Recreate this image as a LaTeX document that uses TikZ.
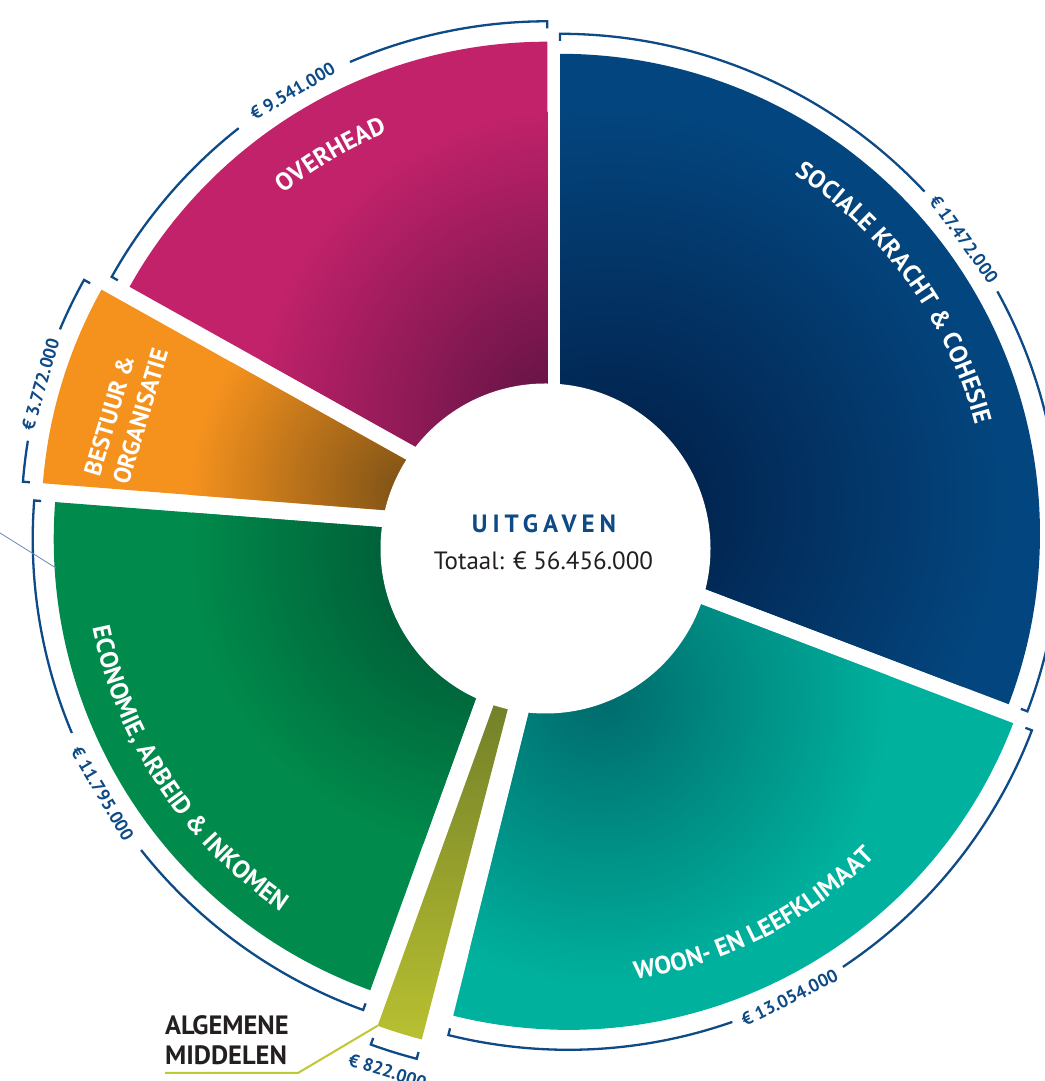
\documentclass[tikz,border=0pt]{standalone}
\usepackage{fontspec}
\setmainfont{PT Sans}
\newfontfamily\widefont[LetterSpace=20]{PT Sans}
\usepackage{xcolor}
\usepackage{tikz}
\usetikzlibrary{calc,decorations.text}

\definecolor{ohlight}{HTML}{C1226A}
\definecolor{ohdark}{HTML}{5B1242}
\definecolor{sklight}{HTML}{03467F}
\definecolor{skdark}{HTML}{021C44}
\definecolor{wllight}{HTML}{00B19D}
\definecolor{wldark}{HTML}{006A6C}
\definecolor{amlight}{HTML}{BFC731}
\definecolor{amdark}{HTML}{5A6926}
\definecolor{eailight}{HTML}{008A4B}
\definecolor{eaidark}{HTML}{004A2F}
\definecolor{bolight}{HTML}{F5921E}
\definecolor{bodark}{HTML}{7A5016}
\definecolor{valueblue}{HTML}{0D4A86}
\definecolor{textgrey}{HTML}{231F20}
\definecolor{thinblue}{HTML}{7185BA}

\newcommand{\segfont}{\fontsize{25}{29}\selectfont\bfseries}

\tikzset{
  bracket/.style={draw=valueblue, line width=2.3pt},
  valuelabel/.style={text=valueblue, font=\fontsize{18}{18}\selectfont\bfseries, inner sep=0pt},
  seglabel/.style={text=white, font=\fontsize{24}{30}\selectfont\bfseries, inner sep=0pt},
  segtext/.style={decorate, decoration={text along path, text color=white, text align=center, text={|\segfont|#1}}},
  leader/.style={draw=amlight, line width=2pt},
}

\begin{document}
\begin{tikzpicture}[x=1pt,y=1pt]
    \useasboundingbox (0,0) rectangle (1044,1081);

    \coordinate (oh) at (547.3,560.7);
    \coordinate (sk) at (560,547.2);
    \coordinate (wl) at (568.4,527.2);
    \coordinate (am) at (547.8,525.4);
    \coordinate (eai) at (533.7,542.1);
    \coordinate (bo) at (514.4,560.6);
    \coordinate (mid) at (545.5,532.5);

    % segments
    \begin{scope}
        \clip (oh) -- ++(90:478.6) arc[start angle=90, end angle=150.8, radius=478.6] -- cycle;
        \fill[ohlight] (oh) circle (600);
        \shade[inner color=ohdark, outer color=ohlight] (565,660) circle (310);
    \end{scope}
    \begin{scope}
        \clip (sk) -- ++(90:480) arc[start angle=90, end angle=-20.8, radius=480] -- cycle;
        \fill[sklight] (sk) circle (600);
        \shade[inner color=skdark, outer color=sklight] (610,580) circle (400);
    \end{scope}
    \begin{scope}
        \clip (wl) -- ++(-20.85:476) arc[start angle=-20.85, end angle=-104, radius=476] -- cycle;
        \fill[wllight] (wl) circle (600);
        \shade[inner color=wldark, outer color=wllight] (600,385) circle (290);
    \end{scope}
    \begin{scope}
        \clip (am) -- ++(-104.6:500) arc[start angle=-104.6, end angle=-109.9, radius=500] -- cycle;
        \shade[top color=amdark, bottom color=amlight] (340,9) rectangle (560,498);
    \end{scope}
    \begin{scope}
        \clip (eai) -- ++(-109.9:480) arc[start angle=-109.9, end angle=-184.4, radius=480] -- cycle;
        \fill[eailight] (eai) circle (600);
        \shade[inner color=eaidark, outer color=eailight] (490,530) circle (300);
    \end{scope}
    \begin{scope}
        \clip (bo) -- ++(175.5:473) arc[start angle=175.5, end angle=150.8, radius=473] -- cycle;
        \fill[bolight] (bo) circle (600);
        \shade[inner color=bodark, outer color=bolight] (410,590) circle (220);
    \end{scope}

    \node[circle, fill=white, minimum size=330pt, inner sep=0pt] (hub) at (mid) {};
    \node[anchor=base, font=\fontsize{25}{25}\selectfont\widefont\bfseries, text=valueblue] (title) at (544,548) {UITGAVEN};
    \node[anchor=base, font=\fontsize{25}{25}\selectfont, text=textgrey] (total) at (543.5,511) {Totaal: € 56.456.000};

    % segment names
    \path[segtext={OVERHEAD}] ($(oh)+(140.65:420)$) arc[start angle=140.65, end angle=100.65, radius=420];
    \path[segtext={SOCIALE KRACHT {\&} COHESIE}] ($(sk)+(80.8:429)$) arc[start angle=80.8, end angle=-9.2, radius=429];
    \path[segtext={WOON- EN LEEFKLIMAAT}] ($(wl)+(-107.85:431)$) arc[start angle=-107.85, end angle=-17.85, radius=431];
    \path[segtext={ECONOMIE, ARBEID {\&} INKOMEN}] ($(eai)+(-191.35:450)$) arc[start angle=-191.35, end angle=-101.35, radius=450];
    \node[seglabel, rotate=73.3, align=left] (lbo) at (126,669) {BESTUUR \&\\ORGANISATIE};

    % brackets
    \draw[bracket] ($(oh)+(90:492)$) -- ($(oh)+(90:499)$) arc[start angle=90, end angle=113.3, radius=499];
    \draw[bracket] ($(oh)+(128.2:499)$) arc[start angle=128.2, end angle=150.8, radius=499] -- ($(oh)+(150.8:492)$);
    \draw[bracket] ($(sk)+(90:493)$) -- ($(sk)+(90:500)$) arc[start angle=90, end angle=43.2, radius=500];
    \draw[bracket] ($(sk)+(29:500)$) arc[start angle=29, end angle=-20.8, radius=500] -- ($(sk)+(-20.8:493)$);
    \draw[bracket] ($(wl)+(-20.85:489)$) -- ($(wl)+(-20.85:496)$) arc[start angle=-20.85, end angle=-56.4, radius=496];
    \draw[bracket] ($(wl)+(-70.7:496)$) arc[start angle=-70.7, end angle=-104, radius=496] -- ($(wl)+(-104:489)$);
    \draw[bracket] ($(am)+(-104.6:513)$) -- ($(am)+(-104.6:520)$) arc[start angle=-104.6, end angle=-109.9, radius=520] -- ($(am)+(-109.9:513)$);
    \draw[bracket] ($(eai)+(-109.9:494)$) -- ($(eai)+(-109.9:501)$) arc[start angle=-109.9, end angle=-141.6, radius=501];
    \draw[bracket] ($(eai)+(-157.2:501)$) arc[start angle=-157.2, end angle=-184.4, radius=501] -- ($(eai)+(-184.4:494)$);
    \draw[bracket] ($(bo)+(150.8:486)$) -- ($(bo)+(150.8:493)$) arc[start angle=150.8, end angle=157.2, radius=493];
    \draw[bracket] ($(bo)+(170.7:493)$) arc[start angle=170.7, end angle=175.5, radius=493] -- ($(bo)+(175.5:486)$);

    \node[valuelabel, rotate=30.7] (voh) at ($(oh)+(120.7:499)$) {€ 9.541.000};
    \node[valuelabel, rotate=-54] (vsk) at ($(sk)+(36.1:500)$) {€ 17.472.000};
    \node[valuelabel, rotate=26.5] (vwl) at ($(wl)+(-63.5:496)$) {€ 13.054.000};
    \node[valuelabel, rotate=-17.25] (vam) at ($(am)+(-107.25:540)$) {€ 822.000};
    \node[valuelabel, rotate=-59.4] (veai) at ($(eai)+(-149.4:501)$) {€ 11.795.000};
    \node[valuelabel, rotate=74] (vbo) at ($(bo)+(164:493)$) {€ 3.772.000};

    % algemene middelen
    \node[anchor=north west, align=left, font=\fontsize{26.5}{30}\selectfont\bfseries, text=textgrey, inner sep=0pt] (lam) at (165,66) {ALGEMENE\\MIDDELEN};
    \coordinate (amfoot) at ($(am)+(-109.9:500)$);
    \coordinate (bend) at (298,8);
    \draw[leader] (amfoot) -- (bend) -- (bend -| lam.west);

    \coordinate (leftcut) at (0,548);
    \coordinate (eaipoint) at (56,513);
    \draw[thinblue, line width=0.8pt] (leftcut) -- (eaipoint);

\end{tikzpicture}
\end{document}
